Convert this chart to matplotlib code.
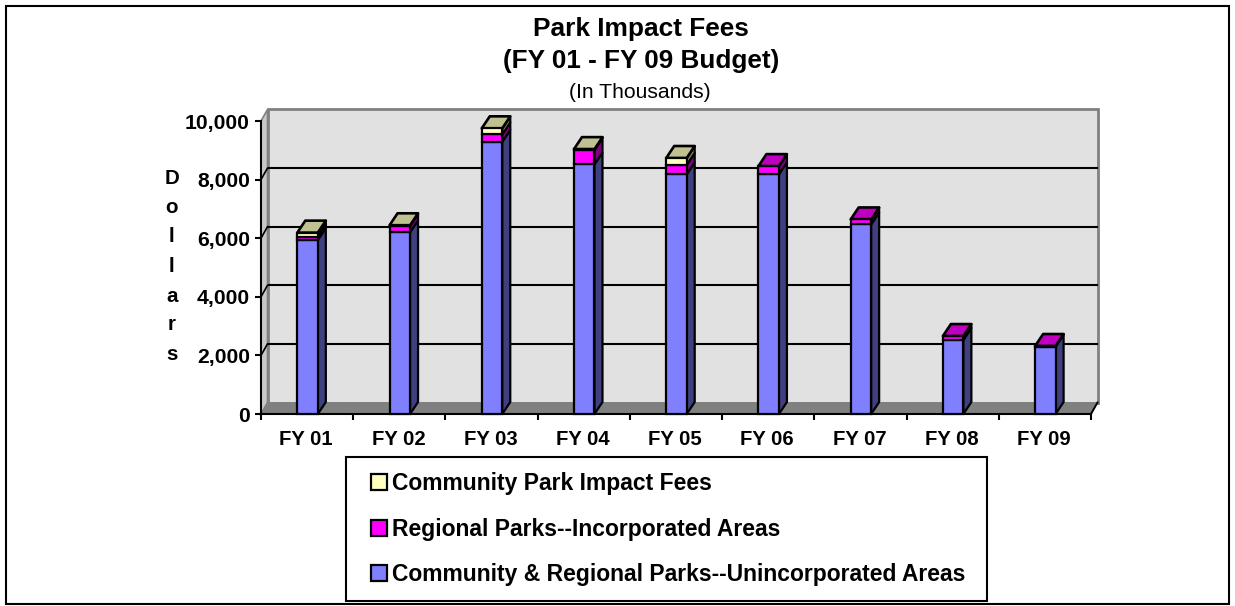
import matplotlib
matplotlib.use("Agg")
import matplotlib.pyplot as plt
from matplotlib.patches import Polygon, Rectangle

plt.rcParams['font.family'] = ['Liberation Sans', 'DejaVu Sans']

categories = ['FY 01', 'FY 02', 'FY 03', 'FY 04', 'FY 05', 'FY 06', 'FY 07', 'FY 08', 'FY 09']
unincorporated = [5940, 6200, 9290, 8520, 8180, 8180, 6470, 2525, 2300]
incorporated = [110, 220, 250, 490, 320, 280, 170, 135, 20]
community = [140, 20, 210, 30, 237, 0, 0, 0, 0]
y_ticks = [0, 2000, 4000, 6000, 8000, 10000]
names = ['Community & Regional Parks--Unincorporated Areas', 'Regional Parks--Incorporated Areas', 'Community Park Impact Fees']

W, H = 1235, 606
fig = plt.figure(figsize=(W / 100, H / 100), dpi=100, facecolor='white')
ax = fig.add_axes([261 / W, 1 - 414 / H, 830 / W, 293 / H])
ax.set_xlim(0, len(categories))
ax.set_ylim(0, 10000)
ax.patch.set_visible(False)
for s in ['top', 'right']:
    ax.spines[s].set_visible(False)
for s in ['left', 'bottom']:
    ax.spines[s].set_linewidth(1.5)

n = len(categories)
DX = 6.5 * n / 830
DY = 11.5 * 10000 / 293
BW = 20.5 * n / 830
BDX = 8 * n / 830
BDY = 12 * 10000 / 293
LW = 1.6

# walls and floor
ax.add_patch(Polygon([(DX, DY), (n + DX, DY), (n + DX, 10000 + DY), (DX, 10000 + DY)], fc='#E1E1E1', ec='#808080', lw=2.0, clip_on=False, zorder=0))
ax.add_patch(Polygon([(0, 0), (DX, DY), (DX, 10000 + DY), (0, 10000)], fc='#C8C8C8', ec='#808080', lw=1.2, clip_on=False, zorder=0.5))
ax.add_patch(Polygon([(0, 0), (n, 0), (n + DX, DY), (DX, DY)], fc='#808080', ec='#808080', lw=0.5, clip_on=False, zorder=0.6))
ax.plot([n, n + DX], [0, DY], color='black', lw=1.4, clip_on=False, zorder=0.7)
for v in y_ticks:
    if 0 < v < 10000:
        ax.plot([DX, n + DX], [v + DY, v + DY], color='black', lw=1.5, clip_on=False, zorder=1, solid_capstyle='butt')
        ax.plot([0, DX], [v, v + DY], color='black', lw=1.2, clip_on=False, zorder=1)

series = [
    (unincorporated, '#8080FF', '#404080', '#6060C0'),
    (incorporated, '#FF00FF', '#800080', '#C000C0'),
    (community, '#FFFFC0', '#808060', '#C0C090'),
]
xs = [i + 0.5 - BW / 2 + 0.005 for i in range(n)]
handles = []
base = [0] * n
tops = [u + i + c for u, i, c in zip(unincorporated, incorporated, community)]
for (vals, front, side, top) in series:
    bars = ax.bar(xs, vals, width=BW, bottom=base, align='edge', color=front, edgecolor='black', linewidth=LW, zorder=3, clip_on=False)
    handles.append(bars)
    for x, b, v, t in zip(xs, base, vals, tops):
        if v <= 0:
            continue
        r = x + BW
        ax.add_patch(Polygon([(r, b), (r + BDX, b + BDY), (r + BDX, b + v + BDY), (r, b + v)], fc=side, ec='black', lw=LW, zorder=2.5, clip_on=False, joinstyle='round'))
        if b + v >= t - 1e-6:
            ax.add_patch(Polygon([(x, b + v), (r, b + v), (r + BDX, b + v + BDY), (x + BDX, b + v + BDY)], fc=top, ec='black', lw=LW + 0.3, zorder=2.6, clip_on=False, joinstyle='round'))
    base = [a + b for a, b in zip(base, vals)]

ax.set_xticks(range(n + 1))
ax.set_xticklabels([''] * (n + 1))
ax.set_yticks(y_ticks)
ax.set_yticklabels([f'{v:,}' for v in y_ticks], fontsize=15.2, fontweight='bold')
ax.tick_params(axis='both', length=4.5, width=1.5, color='black')
ax.tick_params(axis='y', pad=3.5)
for i, c in enumerate(categories):
    ax.annotate(c, xy=(i + 0.5, 0), xycoords=('data', 'axes fraction'), xytext=(-0.7, -18.5), textcoords='offset points', ha='center', va='center', fontsize=14.6, fontweight='bold')

# outer frame
fig.add_artist(Rectangle((6 / W, 1 - 604 / H), 1223 / W, 598 / H, transform=fig.transFigure, fc='none', ec='black', lw=1.5))

# titles
fig.text(641 / W, 1 - 29 / H, 'Park Impact Fees', ha='center', va='center', fontsize=18.9, fontweight='bold')
fig.text(641 / W, 1 - 61 / H, '(FY 01 - FY 09 Budget)', ha='center', va='center', fontsize=18.8, fontweight='bold')
fig.text(640 / W, 1 - 92 / H, '(In Thousands)', ha='center', va='center', fontsize=15.2)

# vertical axis title, one letter per row
for ch, py in zip('Dollars', [179, 208, 236, 266, 296, 325, 355]):
    fig.text(172 / W, 1 - py / H, ch, ha='center', va='center', fontsize=14.8, fontweight='bold')

# legend
fig.add_artist(Rectangle((346 / W, 1 - 601 / H), 641 / W, 144 / H, transform=fig.transFigure, fc='white', ec='black', lw=1.5, zorder=5))
leg = fig.legend(handles[::-1], names[::-1], loc='upper left', bbox_to_anchor=(350 / W, 1 - 451 / H), frameon=False,
                 prop={'weight': 'bold', 'size': 16.5}, labelspacing=1.0, handlelength=0.7, handleheight=0.7, handletextpad=0.22, borderpad=0.4)
leg.set_zorder(6)
fig.savefig('out.png', dpi=100)
